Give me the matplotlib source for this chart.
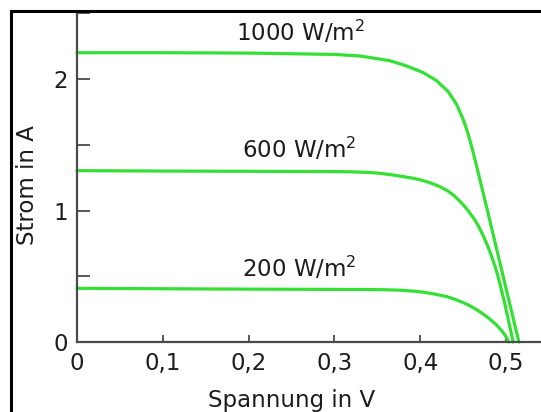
import matplotlib
matplotlib.use("Agg")
import matplotlib.pyplot as plt
from matplotlib.lines import Line2D

# ---- data ----
v_1000 = [0.00, 0.10, 0.20, 0.30, 0.33, 0.3648, 0.3843, 0.4037, 0.4192, 0.4328, 0.4425,
          0.4503, 0.4555, 0.4600, 0.4645, 0.4690, 0.4735, 0.4780, 0.4825, 0.4870, 0.4915,
          0.4960, 0.5005, 0.5050, 0.5095, 0.5150]
i_1000 = [2.20, 2.20, 2.197, 2.187, 2.175, 2.139, 2.099, 2.048, 1.987, 1.903, 1.806,
          1.69, 1.59, 1.485, 1.37, 1.25, 1.13, 1.01, 0.887, 0.764, 0.641,
          0.518, 0.396, 0.273, 0.150, 0.00]

v_600 = [0.00, 0.10, 0.20, 0.30, 0.32, 0.338, 0.353, 0.365, 0.376, 0.392, 0.402, 0.412,
         0.423, 0.432, 0.440, 0.446, 0.452, 0.458, 0.463, 0.468, 0.473, 0.479, 0.483,
         0.487, 0.490, 0.493, 0.496, 0.499, 0.502, 0.505, 0.5083]
i_600 = [1.303, 1.30, 1.298, 1.296, 1.294, 1.29, 1.283, 1.273, 1.262, 1.245, 1.23, 1.21,
         1.181, 1.15, 1.11, 1.072, 1.03, 0.98, 0.935, 0.88, 0.815, 0.725, 0.655,
         0.58, 0.515, 0.44, 0.36, 0.28, 0.19, 0.10, 0.0]

v_200 = [0.00, 0.10, 0.20, 0.30, 0.34, 0.36, 0.376, 0.392, 0.405, 0.418, 0.431, 0.440,
         0.450, 0.458, 0.466, 0.473, 0.479, 0.484, 0.488, 0.492, 0.495, 0.498, 0.500,
         0.502, 0.503]
i_200 = [0.408, 0.405, 0.402, 0.40, 0.399, 0.397, 0.394, 0.387, 0.378, 0.363, 0.345, 0.326,
         0.30, 0.275, 0.245, 0.215, 0.185, 0.158, 0.135, 0.108, 0.085, 0.06, 0.04,
         0.015, 0.0]

curve_labels = [r"$\mathregular{1000\ W/m^2}$", r"$\mathregular{600\ W/m^2}$",
                r"$\mathregular{200\ W/m^2}$"]
label_x = [0.2605, 0.2587, 0.2587]
label_y = [2.291, 1.399, 0.497]

x_ticks = [0.0, 0.1, 0.2, 0.3, 0.4, 0.5]
x_ticklabels = ["0", "0,1", "0,2", "0,3", "0,4", "0,5"]
y_ticks = [0, 1, 2]
y_ticklabels = ["0", "1", "2"]
y_minor = [0.5, 1.5, 2.5]

x_label = "Spannung in V"
y_label = "Strom in A"

# ---- style ----
plt.rcParams["font.family"] = ["DejaVu Sans"]
plt.rcParams["mathtext.fontset"] = "dejavusans"
FS = 16.5
TXT = "#1c1c1c"
GREEN = "#33e033"
AXC = "#4a4a4a"

W, H = 541, 412
fig = plt.figure(figsize=(W / 100, H / 100), dpi=100)
fig.patch.set_facecolor("white")

ax_left = 77 / W
ax_bottom = (H - 342) / H
ax_h = 2.5 * 131.5 / H
ax = fig.add_axes([ax_left, ax_bottom, 1 - ax_left, ax_h])
ax.set_xlim(0, (W - 77) / 858)
ax.set_ylim(0, 2.5)

for v, i in [(v_1000, i_1000), (v_600, i_600), (v_200, i_200)]:
    ax.plot(v, i, color=GREEN, lw=2.3, solid_capstyle="round", solid_joinstyle="round",
            clip_on=False)

for s, x, y in zip(curve_labels, label_x, label_y):
    ax.text(x, y, s, ha="center", va="baseline", fontsize=FS, color=TXT)

for sp in ["top", "right"]:
    ax.spines[sp].set_visible(False)
for sp in ["left", "bottom"]:
    ax.spines[sp].set_color(AXC)
    ax.spines[sp].set_linewidth(1.6)

ax.set_xticks(x_ticks)
ax.set_xticklabels(x_ticklabels)
ax.set_yticks(y_ticks)
ax.set_yticklabels(y_ticklabels)
ax.set_yticks(y_minor, minor=True)
ax.tick_params(axis="x", direction="in", length=5, width=1.3, color=AXC,
               labelsize=FS, labelcolor=TXT, pad=7.5)
ax.tick_params(axis="y", which="both", direction="in", length=9.5, width=1.3, color=AXC,
               labelsize=FS, labelcolor=TXT, pad=6.5)

ax.set_xlabel(x_label, fontsize=FS, color=TXT)
ax.xaxis.set_label_coords((291.5 - 77) / (W - 77), (342 - 407) / 328.75)
ax.xaxis.label.set_va("baseline")
ax.set_ylabel(y_label, fontsize=FS, color=TXT)
ax.yaxis.set_label_coords((39 - 77) / (W - 77), (342 - 185) / 328.75)

# outer black frame (left and top edges)
fx = 11.2 / W
fy = 1 - 11.2 / H
fig.add_artist(Line2D([fx, fx], [0, fy], transform=fig.transFigure, color="black", lw=2.2))
fig.add_artist(Line2D([fx, 1], [fy, fy], transform=fig.transFigure, color="black", lw=2.2))

fig.savefig("out.png", dpi=100)
